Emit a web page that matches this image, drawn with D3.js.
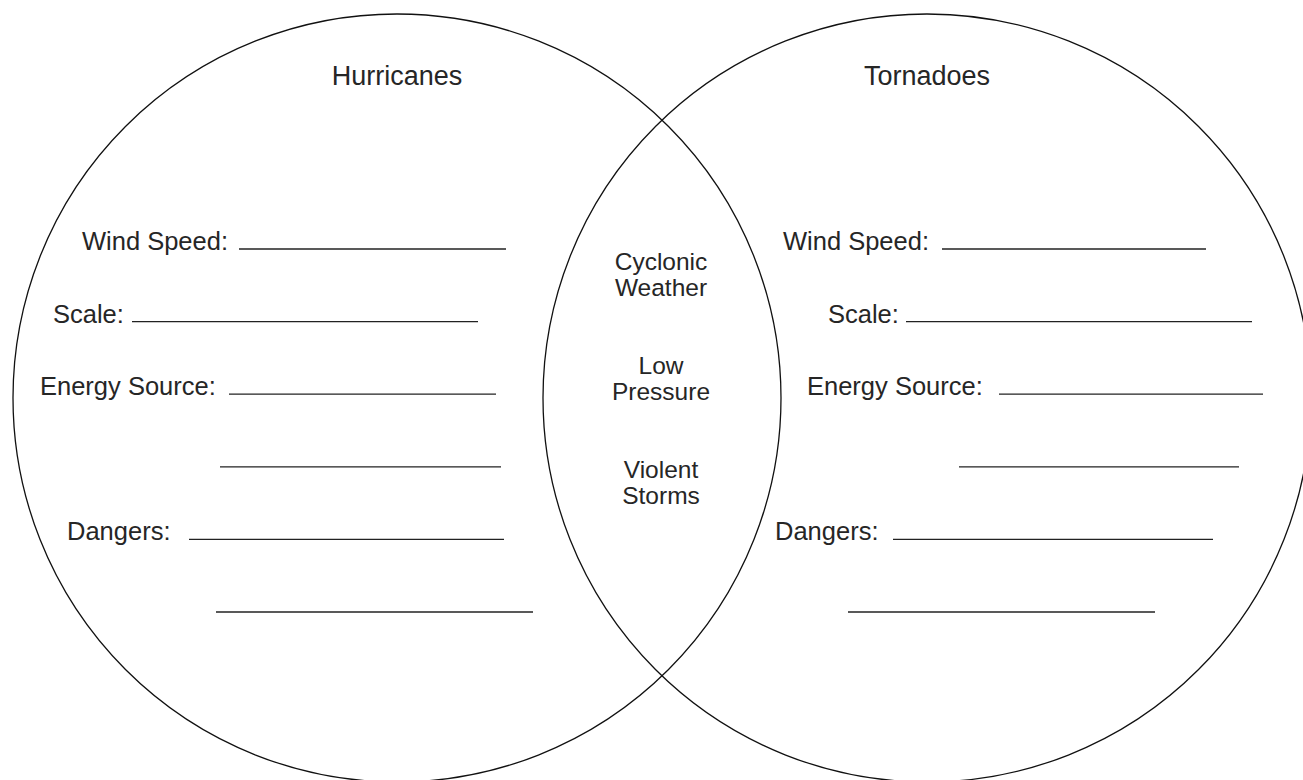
<!DOCTYPE html>
<html>
<head>
<meta charset="utf-8">
<script src="https://cdn.jsdelivr.net/npm/d3@7"></script>
<style>
  body { margin: 0; background: #fff; }
  text { font-family: "Liberation Sans", Helvetica, Arial, sans-serif; fill: #262626; }
</style>
</head>
<body>
<div id="chart"></div>
<script>
// the two sets
const sets = ["Hurricanes", "Tornadoes"];

// worksheet rows (blank label = continuation line)
const leftFields = ["Wind Speed:", "Scale:", "Energy Source:", "", "Dangers:", ""];
const rightFields = ["Wind Speed:", "Scale:", "Energy Source:", "", "Dangers:", ""];

// shared traits in the overlap
const shared = [["Cyclonic", "Weather"], ["Low", "Pressure"], ["Violent", "Storms"]];

const width = 1303;
const height = 780;
const r = 384;

// circle centres
const cx = d3.scaleOrdinal().domain(sets).range([397, 927]);
const cy = 398;

// row positions
const yRow = d3.scaleLinear().domain([0, 5]).range([249, 612]);
const yShared = d3.scaleLinear().domain([0, 2]).range([270, 478]);

// where each row's label and blank line sit: [labelX, lineStart, lineEnd]
const leftLayout = [[82, 239, 506], [53, 132, 478], [40, 229, 496], [null, 220, 501], [67, 189, 504], [null, 216, 533]];
const rightLayout = [[783, 942, 1206], [828, 906, 1252], [807, 999, 1263], [null, 959, 1239], [775, 893, 1213], [null, 848, 1155]];

const svg = d3.select("#chart").append("svg")
  .attr("width", width)
  .attr("height", height);

// circles
svg.selectAll("circle")
  .data(sets)
  .join("circle")
  .attr("cx", d => cx(d))
  .attr("cy", cy)
  .attr("r", r)
  .attr("fill", "none")
  .attr("stroke", "#111")
  .attr("stroke-width", 1.3);

// set titles
svg.selectAll("text.title")
  .data(sets)
  .join("text")
  .attr("class", "title")
  .attr("x", d => cx(d))
  .attr("y", 85)
  .attr("text-anchor", "middle")
  .attr("font-size", 27)
  .text(d => d);

function drawFields(fields, layout) {
  const g = svg.append("g");
  const rows = g.selectAll("g")
    .data(fields.map((f, i) => ({ label: f, i: i, pos: layout[i] })))
    .join("g");

  rows.filter(d => d.label !== "")
    .append("text")
    .attr("x", d => d.pos[0])
    .attr("y", d => yRow(d.i) + 1)
    .attr("font-size", 25.5)
    .text(d => d.label);

  rows.append("line")
    .attr("x1", d => d.pos[1])
    .attr("x2", d => d.pos[2])
    .attr("y1", d => yRow(d.i))
    .attr("y2", d => yRow(d.i))
    .attr("stroke", "#222")
    .attr("stroke-width", 1.3);
}

drawFields(leftFields, leftLayout);
drawFields(rightFields, rightLayout);

// overlap text, one text per line
const mid = (cx(sets[0]) + cx(sets[1])) / 2;
const sharedLines = shared.flatMap((pair, i) => pair.map((w, j) => ({ word: w, group: i, line: j })));
svg.append("g")
  .selectAll("text")
  .data(sharedLines)
  .join("text")
  .attr("text-anchor", "middle")
  .attr("font-size", 24.5)
  .attr("x", mid - 1)
  .attr("y", d => yShared(d.group) + d.line * 26)
  .text(d => d.word);
</script>
</body>
</html>
